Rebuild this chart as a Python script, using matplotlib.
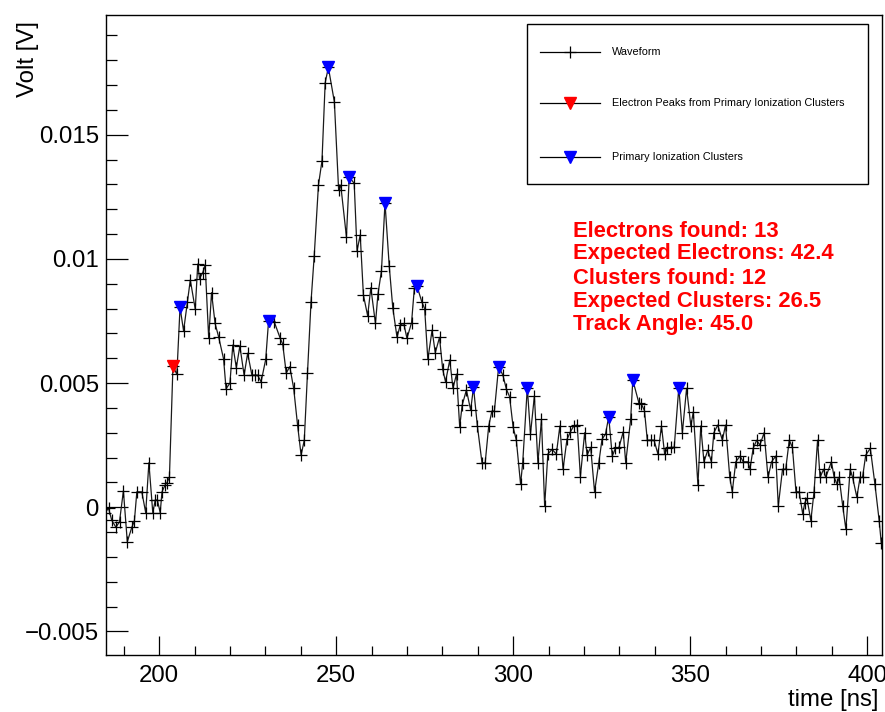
import numpy as np
import matplotlib
matplotlib.use("Agg")
import matplotlib.pyplot as plt
from matplotlib.ticker import MultipleLocator, FuncFormatter

plt.rcParams['font.family'] = ['Liberation Sans', 'DejaVu Sans']

# sampled waveform (time in ns, amplitude in V)
t_wave = [184.7, 185.7, 186.6, 187.8, 188.8, 189.9, 191.0, 192.3, 193.0, 193.7,
          195.1, 196.2, 197.1, 198.2, 198.9, 199.5, 200.3, 200.8, 201.7, 202.2,
          202.9, 203.9, 205.0, 205.9, 206.9, 208.0, 208.8, 210.2, 210.9, 211.4,
          212.3, 213.0, 214.0, 214.8, 215.8, 216.8, 218.2, 218.9, 220.0, 220.8,
          221.8, 222.8, 224.0, 225.0, 226.2, 227.1, 227.8, 228.8, 230.1, 230.9,
          232.5, 234.2, 234.9, 235.9, 236.9, 238.0, 239.1, 240.1, 241.0, 241.9,
          242.9, 243.8, 245.0, 246.0, 246.9, 247.8, 249.5, 250.7, 251.3, 252.9,
          253.7, 255.1, 255.9, 256.8, 257.7, 258.9, 259.8, 261.1, 261.8, 262.8,
          263.8, 265.0, 266.0, 267.2, 268.1, 269.1, 270.0, 271.3, 272.1, 272.8,
          274.2, 275.0, 275.9, 277.1, 278.0, 279.2, 280.1, 280.9, 282.1, 283.0,
          284.0, 284.9, 285.6, 286.8, 288.0, 288.8, 289.9, 291.2, 292.1, 293.1,
          294.0, 294.7, 295.9, 297.1, 298.1, 299.0, 300.0, 300.9, 302.1, 302.7,
          304.0, 304.9, 306.0, 307.0, 308.0, 308.9, 309.8, 311.0, 312.2, 313.2,
          314.1, 315.2, 316.2, 317.1, 318.1, 319.0, 320.2, 320.9, 321.9, 323.0,
          324.2, 325.1, 326.1, 327.0, 328.0, 328.9, 329.9, 331.1, 331.8, 333.2,
          333.8, 335.5, 336.2, 337.1, 337.9, 338.9, 339.8, 340.9, 341.9, 342.8,
          343.6, 344.5, 345.5, 346.8, 347.8, 349.0, 350.2, 350.9, 352.2, 353.0,
          353.9, 355.0, 356.0, 356.7, 357.8, 359.1, 360.0, 361.2, 361.9, 362.9,
          364.1, 365.0, 366.3, 366.9, 367.8, 368.8, 369.7, 370.9, 372.0, 373.0,
          374.2, 374.9, 376.1, 377.0, 378.0, 378.9, 379.9, 380.8, 381.8, 382.4,
          383.0, 384.1, 385.0, 386.0, 386.7, 387.7, 388.3, 389.9, 390.7, 391.5,
          392.1, 393.1, 394.0, 395.2, 395.9, 397.1, 398.0, 398.7, 399.6, 400.9,
          402.2, 403.4, 404.0]
v_wave = [-0.00022, -0.00004, -0.00052, -0.00081, -0.00058, 0.00066, -0.00139, -0.00080, -0.00056, 0.00062,
          0.00062, -0.00022, 0.00179, -0.00022, 0.00029, 0.00029, -0.00022, 0.00062, 0.00090, 0.00099,
          0.00120, 0.00568, 0.00535, 0.00805, 0.00710, 0.00827, 0.00915, 0.00797, 0.00979, 0.00921,
          0.00944, 0.00975, 0.00680, 0.00864, 0.00740, 0.00686, 0.00597, 0.00477, 0.00500, 0.00653,
          0.00562, 0.00649, 0.00532, 0.00620, 0.00532, 0.00532, 0.00532, 0.00505, 0.00595, 0.00748,
          0.00747, 0.00680, 0.00657, 0.00540, 0.00566, 0.00479, 0.00331, 0.00210, 0.00270, 0.00539,
          0.00827, 0.01011, 0.01297, 0.01395, 0.01709, 0.01771, 0.01632, 0.01277, 0.01297, 0.01089,
          0.01330, 0.01304, 0.01033, 0.01096, 0.00854, 0.00771, 0.00884, 0.00740, 0.00857, 0.00952,
          0.01226, 0.00971, 0.00803, 0.00684, 0.00734, 0.00740, 0.00680, 0.00743, 0.00884, 0.00892,
          0.00827, 0.00800, 0.00595, 0.00713, 0.00622, 0.00684, 0.00555, 0.00505, 0.00593, 0.00479,
          0.00536, 0.00324, 0.00411, 0.00472, 0.00391, 0.00483, 0.00327, 0.00179, 0.00179, 0.00327,
          0.00387, 0.00387, 0.00566, 0.00532, 0.00475, 0.00445, 0.00322, 0.00270, 0.00093, 0.00179,
          0.00481, 0.00295, 0.00448, 0.00179, 0.00354, 0.00005, 0.00214, 0.00233, 0.00214, 0.00327,
          0.00153, 0.00273, 0.00304, 0.00327, 0.00331, 0.00123, 0.00300, 0.00210, 0.00241, 0.00062,
          0.00179, 0.00273, 0.00295, 0.00364, 0.00206, 0.00237, 0.00241, 0.00304, 0.00179, 0.00354,
          0.00512, 0.00421, 0.00416, 0.00389, 0.00270, 0.00270, 0.00270, 0.00214, 0.00327, 0.00214,
          0.00237, 0.00241, 0.00241, 0.00482, 0.00300, 0.00479, 0.00327, 0.00384, 0.00089, 0.00327,
          0.00183, 0.00230, 0.00183, 0.00300, 0.00331, 0.00270, 0.00331, 0.00120, 0.00062, 0.00183,
          0.00206, 0.00183, 0.00183, 0.00153, 0.00237, 0.00270, 0.00250, 0.00300, 0.00120, 0.00183,
          0.00206, 0.00005, 0.00153, 0.00153, 0.00270, 0.00241, 0.00062, 0.00062, -0.00027, 0.00018,
          0.00036, -0.00054, 0.00062, 0.00270, 0.00120, 0.00153, 0.00120, 0.00183, 0.00120, 0.00093,
          0.00120, 0.00005, -0.00089, 0.00153, 0.00120, 0.00040, 0.00120, 0.00120, 0.00210, 0.00237,
          0.00093, -0.00054, -0.00145]

# electron peak found from primary ionization clusters
t_electron = [203.9]
v_electron = [0.00568]

# primary ionization cluster peaks
t_cluster = [205.9, 230.9, 247.8, 253.7, 263.8, 272.8, 288.8, 295.9, 304.0, 327.0, 333.8, 346.8]
v_cluster = [0.00805, 0.00748, 0.01771, 0.01330, 0.01226, 0.00892, 0.00483, 0.00566, 0.00481, 0.00364, 0.00512, 0.00482]

info_lines = ["Electrons found: 13", "Expected Electrons: 42.4", "Clusters found: 12",
              "Expected Clusters: 26.5", "Track Angle: 45.0"]

W, H = 885, 712
fig = plt.figure(figsize=(W / 100, H / 100), dpi=100)
ax = fig.add_axes([105.7 / W, 1 - 655 / H, (882 - 105.7) / W, (655 - 15) / H])

ax.plot(t_wave, v_wave, color='#1a1a1a', lw=0.9, marker='+', ms=8.5, mew=0.9, mec='black', zorder=2)
ax.plot(t_electron, v_electron, ls='none', marker='v', ms=8, color='red', zorder=3)
ax.plot(t_cluster, v_cluster, ls='none', marker='v', ms=8, color='blue', zorder=3)

ax.set_xlim(184.9, 404.2)
ax.set_ylim(-0.00595, 0.01982)

ax.xaxis.set_major_locator(MultipleLocator(50))
ax.xaxis.set_minor_locator(MultipleLocator(10))
ax.yaxis.set_major_locator(MultipleLocator(0.005))
ax.yaxis.set_minor_locator(MultipleLocator(0.001))
ax.yaxis.set_major_formatter(FuncFormatter(lambda v, p: ('%g' % round(v, 6)).replace('-', '\u2212')))

ax.tick_params(axis='both', which='both', direction='in', labelsize=17.3, width=0.9)
ax.tick_params(axis='y', which='major', length=15.8, pad=5)
ax.tick_params(axis='y', which='minor', length=7.9)
ax.tick_params(axis='x', which='major', length=13.7, pad=7)
ax.tick_params(axis='x', which='minor', length=6.8)
for s in ax.spines.values():
    s.set_linewidth(1.0)

# axis titles, ROOT style: right-aligned at the axis ends
fig.text(28 / W, 1 - 21 / H, "Volt [V]", rotation=90, ha='center', va='top', fontsize=17.3)
fig.text(879 / W, 1 - 700 / H, "time [ns]", ha='right', va='center', fontsize=17.3)

# overlay in pixel coordinates for the legend box and the text block
ov = fig.add_axes([0, 0, 1, 1])
ov.set_xlim(0, W)
ov.set_ylim(H, 0)
ov.axis('off')
ov.patch.set_alpha(0)

ov.add_patch(plt.Rectangle((527, 24), 341, 160, fill=False, ec='black', lw=1.0))
rows = [(52, 'black', '+', 'Waveform'),
        (103, 'red', 'v', 'Electron Peaks from Primary Ionization Clusters'),
        (157, 'blue', 'v', 'Primary Ionization Clusters')]
for y, c, m, lab in rows:
    ov.plot([540, 600], [y, y], color='black', lw=0.9)
    if m == '+':
        ov.plot([570], [y], ls='none', marker='+', ms=8, mew=0.9, color='black')
    else:
        ov.plot([570], [y], ls='none', marker='v', ms=8, color=c)
    ov.text(612, y, lab, ha='left', va='center', fontsize=7.8)

baselines = [237, 259, 284, 306.5, 330]
for yb, line in zip(baselines, info_lines):
    ov.text(573, yb, line, ha='left', va='baseline', color='red', fontsize=15.8, fontweight='bold')

fig.savefig('out.png', dpi=100)
